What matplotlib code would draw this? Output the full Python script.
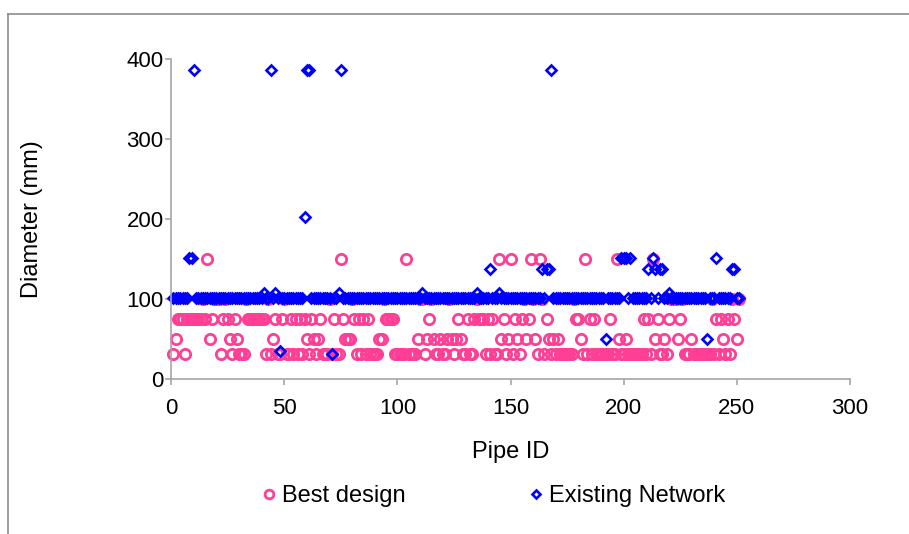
import matplotlib
matplotlib.use('Agg')
import matplotlib.pyplot as plt
from matplotlib.lines import Line2D

plt.rcParams['font.family'] = ['Liberation Sans', 'DejaVu Sans']

# pipe diameters (mm) for pipes 1..251
best_design = [
    32, 50, 75, 75, 75, 32, 75, 75, 75, 75,
    75, 75, 75, 100, 75, 150, 50, 75, 100, 100,
    100, 32, 75, 100, 75, 50, 32, 75, 50, 32,
    32, 32, 100, 75, 75, 75, 75, 75, 75, 75,
    75, 32, 100, 32, 50, 75, 32, 32, 75, 100,
    32, 32, 75, 32, 75, 32, 75, 32, 75, 50,
    32, 75, 50, 32, 50, 75, 32, 32, 32, 100,
    32, 75, 32, 32, 150, 75, 50, 50, 50, 100,
    75, 32, 75, 32, 75, 32, 75, 32, 32, 32,
    32, 50, 50, 100, 75, 75, 75, 75, 32, 32,
    32, 32, 32, 150, 32, 32, 32, 32, 50, 100,
    100, 32, 50, 75, 100, 50, 32, 32, 50, 32,
    32, 50, 100, 50, 32, 50, 75, 50, 32, 32,
    75, 32, 32, 75, 100, 75, 75, 75, 32, 75,
    32, 75, 32, 32, 150, 50, 75, 32, 50, 150,
    32, 75, 50, 32, 75, 100, 50, 75, 150, 100,
    50, 32, 150, 100, 32, 75, 50, 32, 50, 32,
    50, 32, 32, 32, 32, 32, 32, 100, 75, 75,
    50, 32, 150, 32, 75, 32, 75, 32, 32, 32,
    32, 32, 32, 75, 32, 32, 150, 50, 32, 32,
    50, 32, 32, 32, 32, 32, 32, 32, 75, 32,
    75, 32, 150, 50, 75, 32, 32, 50, 32, 75,
    100, 100, 100, 50, 75, 100, 32, 32, 32, 50,
    32, 32, 32, 32, 32, 32, 32, 32, 100, 32,
    75, 32, 75, 50, 32, 75, 32, 100, 75, 50,
    100,
]

existing_network = [
    102, 102, 102, 102, 102, 102, 102, 152, 152, 387,
    102, 102, 102, 102, 102, 102, 102, 102, 102, 102,
    102, 102, 102, 102, 102, 102, 102, 102, 102, 102,
    102, 102, 102, 102, 102, 102, 102, 102, 102, 102,
    108, 102, 102, 387, 102, 108, 102, 35, 102, 102,
    102, 102, 102, 102, 102, 102, 102, 102, 203, 387,
    387, 102, 102, 102, 102, 102, 102, 102, 102, 102,
    32, 102, 102, 108, 387, 102, 102, 102, 102, 102,
    102, 102, 102, 102, 102, 102, 102, 102, 102, 102,
    102, 102, 102, 102, 102, 102, 102, 102, 102, 102,
    102, 102, 102, 102, 102, 102, 102, 102, 102, 102,
    108, 102, 102, 102, 102, 102, 102, 102, 102, 102,
    102, 102, 102, 102, 102, 102, 102, 102, 102, 102,
    102, 102, 102, 102, 108, 102, 102, 102, 102, 102,
    138, 102, 102, 102, 108, 102, 102, 102, 102, 102,
    102, 102, 102, 102, 102, 102, 102, 102, 102, 102,
    102, 102, 102, 138, 102, 138, 138, 387, 102, 102,
    102, 102, 102, 102, 102, 102, 102, 102, 102, 102,
    102, 102, 102, 102, 102, 102, 102, 102, 102, 102,
    102, 50, 102, 102, 102, 102, 102, 102, 152, 152,
    152, 102, 152, 102, 102, 102, 102, 102, 102, 102,
    138, 102, 152, 138, 102, 138, 138, 102, 102, 108,
    102, 102, 102, 102, 102, 102, 102, 102, 102, 102,
    102, 102, 102, 102, 102, 102, 50, 102, 102, 102,
    152, 102, 102, 102, 102, 102, 102, 138, 138, 102,
    102,
]

pipe_id = list(range(1, len(best_design) + 1))

fig = plt.figure(figsize=(9.09, 5.34), dpi=100)
ax = fig.add_axes([171.2 / 909, 1 - 379.3 / 534, 678.6 / 909, 320 / 534])

ax.plot(pipe_id, best_design, linestyle='none', marker='o', ms=7.4, mew=2.0,
        mfc='none', mec='#FF3F96', label='Best design', clip_on=False)
ax.plot(pipe_id, existing_network, linestyle='none', marker='D', ms=5.3, mew=1.9,
        mfc='none', mec='#0000FF', label='Existing Network', clip_on=False)

ax.set_xlim(0, 300)
ax.set_ylim(0, 400)
ax.set_xticks(range(0, 301, 50))
ax.set_yticks(range(0, 401, 100))

for s in ['top', 'right']:
    ax.spines[s].set_visible(False)
for s in ['left', 'bottom']:
    ax.spines[s].set_color('#a6a6a6')
    ax.spines[s].set_linewidth(1.2)
ax.tick_params(axis='both', colors='#a6a6a6', labelcolor='black', labelsize=16,
               length=4.5, width=1.2)
ax.tick_params(axis='x', pad=9)
ax.tick_params(axis='y', pad=1)

ax.set_xlabel('Pipe ID', fontsize=17, labelpad=16)
ax.set_ylabel('Diameter (mm)', fontsize=17, labelpad=60)

fig.legend(loc='center left', bbox_to_anchor=(262 / 909, 1 - 496 / 534), ncol=2,
           frameon=False, fontsize=17, handlelength=0.6, handletextpad=0.25,
           columnspacing=5.2, borderpad=0, borderaxespad=0, markerscale=0.85)

# outer chart frame
fig.add_artist(Line2D([8 / 909, 8 / 909], [0, 1 - 14 / 534], color='#8c8c8c', lw=1.2))
fig.add_artist(Line2D([8 / 909, 1], [1 - 14 / 534, 1 - 14 / 534], color='#8c8c8c', lw=1.2))

fig.savefig('out.png', dpi=100)
